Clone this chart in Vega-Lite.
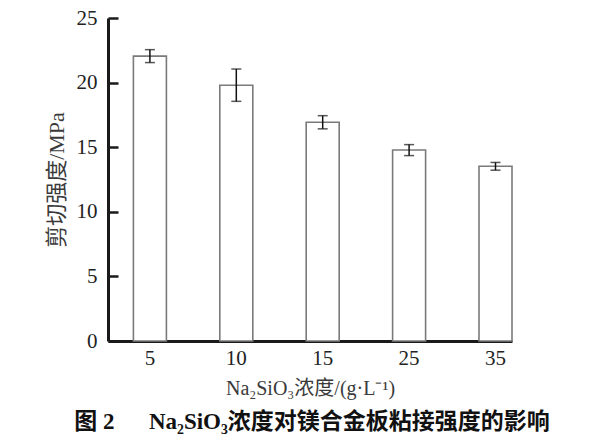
{
  "$schema": "https://vega.github.io/schema/vega-lite/v6.json",
  "autosize": "none",
  "width": 404,
  "height": 323,
  "padding": {"left": 108, "top": 18, "right": 96, "bottom": 102},
  "background": "white",
  "data": {"values": [
    {"c": "5", "v": 22.05, "lo": 21.55, "hi": 22.55},
    {"c": "10", "v": 19.8, "lo": 18.55, "hi": 21.05},
    {"c": "15", "v": 16.93, "lo": 16.42, "hi": 17.44},
    {"c": "25", "v": 14.78, "lo": 14.35, "hi": 15.2},
    {"c": "35", "v": 13.52, "lo": 13.22, "hi": 13.82}
  ]},
  "title": {
    "text": "图\u00a02\u00a0\u00a0\u00a0\u00a0\u00a0\u00a0Na₂SiO₃浓度对镁合金板粘接强度的影响",
    "orient": "bottom",
    "anchor": "middle",
    "font": "Liberation Serif, Noto Sans CJK SC",
    "fontSize": 23,
    "fontWeight": "bold",
    "color": "#111",
    "offset": 13,
    "dx": 2
  },
  "config": {
    "view": {"stroke": null},
    "axis": {
      "labelFont": "Liberation Serif",
      "titleFont": "Liberation Serif, Noto Sans CJK SC",
      "labelFontSize": 21,
      "titleFontSize": 20,
      "labelColor": "#222222",
      "titleColor": "#3a3a3a",
      "titleFontWeight": "normal",
      "domainColor": "#1a1a1a",
      "domainWidth": 3,
      "tickColor": "#1a1a1a",
      "grid": false
    }
  },
  "encoding": {
    "x": {
      "field": "c",
      "type": "ordinal",
      "sort": null,
      "scale": {"paddingInner": 0.618, "paddingOuter": 0.147, "align": 1},
      "axis": {
        "title": "Na₂SiO₃浓度/(g·L⁻¹)",
        "labelAngle": 0,
        "ticks": false,
        "labelPadding": 6,
        "titlePadding": 10
      }
    }
  },
  "layer": [
    {
      "mark": {"type": "bar", "fill": "white", "stroke": "#7a7a7a", "strokeWidth": 1.6},
      "encoding": {
        "y": {
          "field": "v",
          "type": "quantitative",
          "title": "剪切强度/MPa",
          "scale": {"domain": [0, 25], "nice": false},
          "axis": {
            "values": [0, 5, 10, 15, 20, 25],
            "tickSize": -10,
            "tickWidth": 2.5,
            "labelPadding": 21,
            "titlePadding": 8,
            "titleFontSize": 22
          }
        }
      }
    },
    {
      "mark": {"type": "errorbar", "ticks": {"size": 10, "thickness": 1.5, "color": "#111"}, "rule": {"strokeWidth": 1.5, "color": "#111"}},
      "encoding": {
        "y": {"field": "lo", "type": "quantitative", "title": "剪切强度/MPa"},
        "y2": {"field": "hi"}
      }
    }
  ]
}
